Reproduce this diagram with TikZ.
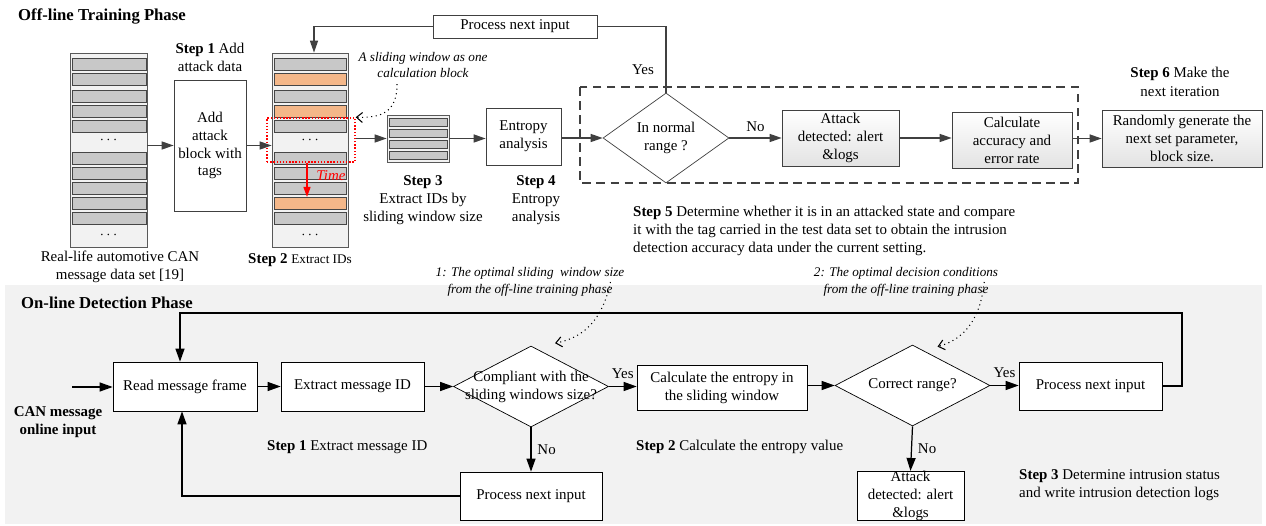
\documentclass[tikz,border=0pt]{standalone}
\usepackage{fontspec}
\setmainfont{Liberation Serif}
\usetikzlibrary{shapes.geometric,arrows.meta}

\definecolor{barGray}{RGB}{200,200,200}
\definecolor{barOrange}{RGB}{244,183,137}
\definecolor{stackBg}{RGB}{242,242,242}
\definecolor{lineGray}{RGB}{64,64,64}
\definecolor{panelBg}{RGB}{242,242,242}

\newcommand{\nfont}{\fontsize{8.5}{10.2}\selectfont}
\newcommand{\sfont}{\fontsize{7.5}{9.4}\selectfont}

\tikzset{
  box/.style={draw=lineGray, rectangle, align=center, inner sep=1pt, font=\nfont},
  gbox/.style={box, top color=white, bottom color=gray!22},
  bbox/.style={draw=black, rectangle, align=center, inner sep=1pt, font=\nfont, fill=white},
  decide/.style={draw, diamond, inner sep=0pt, fill=white},
  stack/.style={draw=gray!70!black, fill=stackBg, rectangle, inner sep=0pt},
  bar/.style={draw=gray!55!black, line width=0.5pt},
  lbl/.style={font=\nfont, align=center},
  note/.style={font=\sfont\itshape, align=center},
  flow/.style={draw=lineGray, line width=0.8pt, -{Triangle[length=0.24cm,width=0.16cm]}},
  flowb/.style={draw=black, line width=0.7pt, -{Triangle[length=0.26cm,width=0.18cm]}},
  hint/.style={dotted, line width=0.6pt, -{Straight Barb[length=0.12cm,width=0.2cm]}}
}

\begin{document}
\begin{tikzpicture}[x=0.02cm, y=-0.02cm]
    \useasboundingbox (0,0) rectangle (1266,526);

    % =================================================================
    % OFF-LINE TRAINING PHASE
    % =================================================================
    \node[anchor=west, font=\fontsize{9.5}{11}\selectfont\bfseries] (title1) at (12,16) {Off-line Training Phase};

    % data set stack
    \node[stack, minimum width=1.54cm, minimum height=3.88cm] (stackA) at (108.5,150) {};
    \foreach \t in {58,73,90,105,120,152,167,182,197,212}
        \draw[bar, fill=barGray] (72,\t) rectangle (146,\t+12);
    \node[lbl] (dotsA1) at (108.5,140) {$\cdots$};
    \node[lbl] (dotsA2) at (108.5,235) {$\cdots$};
    \node[lbl] (dataLbl) at (120,267) {Real-life automotive CAN\\message data set [19]};

    % add attack block
    \node[box, minimum width=1.44cm, minimum height=2.62cm] (addBox) at (210,145.5) {Add\\attack\\block with\\tags};
    \node[lbl] (step1Lbl) at (210,57) {\textbf{Step 1} Add\\attack data};

    % stack with attack frames
    \node[stack, minimum width=1.52cm, minimum height=3.88cm] (stackB) at (310,150) {};
    \foreach \t/\c in {58/barGray,73/barOrange,90/barGray,105/barOrange,120/barGray,
                       152/barGray,167/barGray,182/barGray,197/barOrange,212/barGray}
        \draw[bar, fill=\c] (274,\t) rectangle (346,\t+12);
    \node[lbl] (dotsB1) at (310,140) {$\cdots$};
    \node[lbl] (dotsB2) at (310,235) {$\cdots$};
    \node[lbl] (step2Lbl) at (300,260) {\textbf{Step 2} {\sfont Extract IDs}};

    % sliding window
    \node[draw=red, densely dotted, line width=0.8pt, minimum width=1.76cm, minimum height=0.88cm] (win) at (311,140) {};
    \draw[red, line width=0.7pt, -{Triangle[length=0.2cm,width=0.14cm]}] (win.south -| 307,0) -- (307,197);
    \node[font=\nfont\itshape, text=red] (timeLbl) at (331,176) {Time};
    \node[note] (winNote) at (423,65) {A sliding window as one\\calculation block};
    \draw[hint] ([xshift=-0.52cm]winNote.south) .. controls (397,112) and (382,118) .. (win.north east);

    % extracted window
    \node[stack, minimum width=1.24cm, minimum height=0.94cm] (winStack) at (418,138.5) {};
    \foreach \t in {118,129,140,151}
        \draw[bar, fill=barGray] (389,\t) rectangle (447,\t+8);
    \node[lbl] (step3Lbl) at (423,200) {\textbf{Step 3}\\Extract IDs by\\sliding window size};

    % entropy analysis
    \node[box, minimum width=1.5cm, minimum height=1.14cm] (entropy) at (523.5,136.5) {Entropy\\analysis};
    \node[lbl] (step4Lbl) at (536,200) {\textbf{Step 4}\\Entropy\\analysis};

    % decision block
    \draw[lineGray, line width=0.6pt, dash pattern=on 5pt off 3pt] (580,87) rectangle (1078,183);
    \node[decide, draw=lineGray, minimum width=2.52cm, minimum height=1.8cm] (normal) at (666,138) {};
    \node[lbl] (normalTxt) at (normal) {In normal\\range ?};
    \node[gbox, minimum width=2.34cm, minimum height=1.12cm] (attackA) at (840.5,138) {Attack\\detected: alert\\\&logs};
    \node[gbox, minimum width=2.4cm, minimum height=1.12cm] (accuracy) at (1012,140) {Calculate\\accuracy and\\error rate};
    \node[gbox, minimum width=3.2cm, minimum height=1.14cm] (iter) at (1182,138.5) {Randomly generate the\\next set parameter,\\block size.};
    \node[lbl] (step6Lbl) at (1180,82) {\textbf{Step 6} Make the\\[1pt]next iteration};
    \node[lbl, anchor=west, align=left] (step5Lbl) at (627,231) {\textbf{Step 5} Determine whether it is in an attacked state and compare\\it with the tag carried in the test data set to obtain the intrusion\\detection accuracy data under the current setting.};

    % next input loop
    \node[box, minimum width=3.28cm, minimum height=0.46cm] (nextA) at (515,26.5) {Process next input};

    % connectors
    \draw[flow] (stackA.east |- addBox) -- (addBox.west);
    \draw[flow] (addBox.east) -- (addBox.east -| stackB.west);
    \draw[flow] (win.east |- winStack) -- (winStack.west);
    \draw[flow] (winStack.east) -- (winStack.east -| entropy.west);
    \draw[flow] (entropy.east |- normal) -- (normal.west);
    \draw[flow] (normal.east) -- node[lbl, above] {No} (attackA.west);
    \draw[flow] (attackA.east) -- (attackA.east -| accuracy.west);
    \draw[flow] (accuracy.east |- iter) -- (iter.west);
    \draw[lineGray, line width=0.8pt] (normal.north) |- (nextA.east);
    \node[lbl] (yesA) at (643,70) {Yes};
    \draw[flow] (nextA.west) -| ([xshift=0.08cm]stackB.north);

    % =================================================================
    % ON-LINE DETECTION PHASE
    % =================================================================
    \fill[panelBg] (5,285) rectangle (1262,524);
    \node[anchor=west, font=\fontsize{9.5}{11}\selectfont\bfseries] (title2) at (15,303) {On-line Detection Phase};

    \coordinate (canIn) at (72,387);
    \node[font=\fontsize{8.5}{10.2}\selectfont\bfseries, align=center] (canLbl) at (58,422) {CAN message\\online input};
    \node[bbox, minimum width=2.88cm, minimum height=0.98cm] (readBox) at (185,386.5) {Read message frame};
    \node[bbox, minimum width=2.86cm, minimum height=0.98cm] (extractBox) at (352.5,386.5) {Extract message ID};
    \node[decide, minimum width=3.1cm, minimum height=1.62cm] (cDiam) at (531,386.5) {};
    \node[lbl] (cDiamTxt) at (cDiam) {Compliant with the\\sliding windows size?};
    \node[bbox, minimum width=3.4cm, minimum height=0.9cm] (entropyB) at (722,387.5) {Calculate the entropy in\\the sliding window};
    \node[bbox, minimum width=2.84cm, minimum height=0.96cm] (nextB) at (531,496) {Process next input};
    \node[decide, minimum width=3.1cm, minimum height=1.62cm] (rDiam) at (912.5,385.5) {};
    \node[lbl] (rDiamTxt) at (rDiam) {Correct range?};
    \node[bbox, minimum width=2.86cm, minimum height=0.96cm] (nextC) at (1090.5,386) {Process next input};
    \node[bbox, inner ysep=0pt, minimum width=2.14cm, minimum height=0.96cm] (attackB) at (910.5,496) {Attack\\detected: alert\\\&logs};

    \node[lbl, anchor=west] (step1b) at (261,447) {\textbf{Step 1} Extract message ID};
    \node[lbl, anchor=west] (step2b) at (630,447) {\textbf{Step 2} Calculate the entropy value};
    \node[lbl, anchor=west, align=left] (step3b) at (1013,485) {\textbf{Step 3} Determine intrusion status\\and write intrusion detection logs};

    \node[note] (note1) at (530,282) {1: The optimal sliding \ window size\\from the off-line training phase};
    \node[note] (note2) at (906,282) {2: The optimal decision conditions\\from the off-line training phase};
    \draw[hint] ([xshift=-0.4cm]note1.east) .. controls (602,322) and (582,338) .. ([shift={(0.48cm,0.05cm)}]cDiam.north);
    \draw[hint] ([xshift=-0.4cm]note2.east) .. controls (980,322) and (962,340) .. ([shift={(0.5cm,-0.04cm)}]rDiam.north);

    % connectors
    \coordinate (topR) at (1182,313);
    \coordinate (topL) at (180,313);
    \coordinate (botL) at (182,499);
    \draw[flowb] (canIn) -- (canIn -| readBox.west);
    \draw[flowb] (readBox.east) -- (extractBox.west);
    \draw[flowb] (extractBox.east) -- (cDiam.west);
    \draw[flowb] (cDiam.east) -- node[lbl, above, yshift=1pt] {Yes} (cDiam.east -| entropyB.west);
    \draw[flowb] (cDiam.south) -- node[lbl, right] {No} (nextB.north);
    \draw[flowb] (entropyB.east |- rDiam) -- (rDiam.west);
    \draw[flowb] (rDiam.east) -- node[lbl, above, yshift=1pt] {Yes} (rDiam.east -| nextC.west);
    \draw[flowb] (rDiam.south) -- node[lbl, right] {No} (attackB.north);
    \draw[flowb] (nextC.east) -| (topR) -- (topL) -- (topL |- readBox.north);
    \draw[flowb] (nextB.west) -- (botL |- nextB.west) -- (botL |- readBox.south);

\end{tikzpicture}
\end{document}
